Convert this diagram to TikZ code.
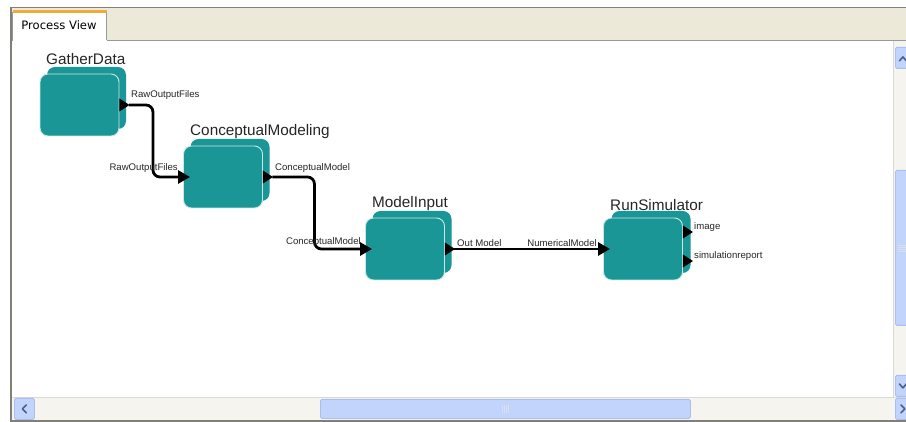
\documentclass[tikz,border=0pt]{standalone}
\usepackage{fontspec}
\setmainfont{Liberation Sans}
\newfontfamily\tabfont{DejaVu Sans}
\usetikzlibrary{arrows.meta}
\definecolor{blockteal}{RGB}{27,150,150}
\definecolor{blockedge}{RGB}{200,232,232}
\definecolor{xpbeige}{RGB}{236,233,216}
\definecolor{xpframe}{RGB}{128,128,120}
\definecolor{xptrack}{RGB}{245,244,239}
\definecolor{xpbtn}{RGB}{194,211,252}
\definecolor{xpbtnedge}{RGB}{170,190,240}
\definecolor{xpthumb}{RGB}{196,214,251}
\definecolor{xpglyph}{RGB}{77,97,133}
\definecolor{taborange}{RGB}{240,170,60}
\definecolor{tabedge}{RGB}{145,155,156}
\begin{document}
\begin{tikzpicture}[x=1pt,y=-1pt,
  front/.style={draw=blockedge, line width=0.9pt, fill=blockteal, rounded corners=8pt,
    minimum width=79pt, minimum height=62pt, inner sep=0pt},
  back/.style={fill=blockteal, rounded corners=8pt,
    minimum width=79pt, minimum height=62pt, inner sep=0pt},
  title/.style={font=\fontsize{15.3}{18}\selectfont, anchor=base west, inner sep=0pt, text=black!85},
  lbl/.style={font=\fontsize{9.6}{11}\selectfont, inner sep=0pt, text=black!85},
  conn/.style={line width=2.8pt, rounded corners=7pt, line cap=butt,
    -{Triangle[length=12pt,width=13pt]}},
  outport/.pic={\fill (0,-6.5) -- (10,0) -- (0,6.5) -- cycle;},
  btn/.style={fill=xpbtn, draw=xpbtnedge, line width=0.8pt, rounded corners=1.5pt},
  glyph/.style={draw=xpglyph, line width=1.6pt, line cap=round, line join=round}
]
\useasboundingbox (0,0) rectangle (906,422);
\fill[white] (0,0) rectangle (906,422);

% ---- window chrome ----
\fill[xpbeige] (12,8) rectangle (906,40);
\draw[xpframe, line width=0.8pt] (10,7.5) -- (906,7.5);
\draw[xpframe, line width=2pt] (11,7.5) -- (11,422);
\draw[tabedge, line width=0.7pt] (106,40.5) -- (906,40.5);
% tab
\fill[white] (12.5,10) rectangle (106.5,41);
\draw[tabedge, line width=0.7pt] (12.5,41) -- (12.5,12) -- (106.5,12) -- (106.5,40.5);
\fill[taborange] (12.5,10) rectangle (106.5,13);
\node[font=\tabfont\fontsize{11.6}{13}\selectfont, inner sep=0pt] (tab) at (59,25.5) {Process View};

% vertical scrollbar
\fill[xptrack] (893,41) rectangle (906,397);
\draw[white!85!black, line width=0.6pt] (893,41) -- (893,397);
\node[btn, minimum width=13pt, minimum height=21pt, anchor=north west] (up) at (895,47) {};
\draw[glyph] ([shift={(-2.5,3)}]up.center) -- ([shift={(1,-1)}]up.center) -- ([shift={(4.5,3)}]up.center);
\node[btn, minimum width=13pt, minimum height=155pt, anchor=north west] (vthumb) at (895,170) {};
\foreach \d in {-3,-1,1,3}
  \draw[white!80!xpglyph, line width=0.6pt] ([shift={(-4,\d)}]vthumb.center) -- ([shift={(6,\d)}]vthumb.center);
\node[btn, minimum width=13pt, minimum height=21pt, anchor=north west] (down) at (895,375) {};
\draw[glyph] ([shift={(-2.5,-2)}]down.center) -- ([shift={(1,2)}]down.center) -- ([shift={(4.5,-2)}]down.center);

% horizontal scrollbar
\fill[xptrack] (12,397) rectangle (906,420);
\draw[white!85!black, line width=0.6pt] (12,397) -- (906,397);
\node[btn, minimum width=20pt, minimum height=21pt, anchor=north west] (left) at (14,398) {};
\draw[glyph] ([shift={(2,-4)}]left.center) -- ([shift={(-2,0)}]left.center) -- ([shift={(2,4)}]left.center);
\node[btn, minimum width=370pt, minimum height=19pt, anchor=north west] (hthumb) at (320,399) {};
\foreach \d in {-3,-1,1,3}
  \draw[white!80!xpglyph, line width=0.6pt] ([shift={(\d,-4)}]hthumb.center) -- ([shift={(\d,4)}]hthumb.center);
\node[btn, minimum width=13pt, minimum height=21pt, anchor=north west] (right) at (895,398) {};
\draw[glyph] ([shift={(-1,-4)}]right.center) -- ([shift={(3,0)}]right.center) -- ([shift={(-1,4)}]right.center);
\draw[xpframe, line width=2pt] (11,421) -- (906,421);

% ---- blocks ----
\node[back] (gdb) at (86.5,98) {};
\node[front] (gd) at (79.5,105) {};
\node[title] (gdt) at (46,65) {GatherData};

\node[back] (cmb) at (230,170) {};
\node[front] (cm) at (223,177) {};
\node[title] (cmt) at (190,136) {ConceptualModeling};

\node[back] (mib) at (412,242) {};
\node[front] (mi) at (405,249) {};
\node[title] (mit) at (372,208) {ModelInput};

\node[back] (rsb) at (651,242) {};
\node[front] (rs) at (643,249) {};
\node[title] (rst) at (610,211) {RunSimulator};

% ---- ports ----
\pic at (gd.east) {outport};
\coordinate (gdo) at ([xshift=9.5pt]gd.east);
\pic at (cm.east) {outport};
\coordinate (cmo) at ([xshift=9.5pt]cm.east);
\pic at (mi.east) {outport};
\coordinate (mio) at ([xshift=9.5pt]mi.east);
\pic at ([yshift=17pt]rs.east) {outport};
\pic at ([yshift=-12pt]rs.east) {outport};
\coordinate (cmi) at ([xshift=7pt]cm.west);
\coordinate (mii) at ([xshift=7pt]mi.west);
\coordinate (rsi) at ([xshift=7pt]rs.west);

% ---- connectors ----
\draw[conn] (gdo) -- ++(24,0) |- (cmi);
\draw[conn] (cmo) -- ++(42,0) |- (mii);
\draw[conn] (mio) -- (rsi);

% ---- port labels ----
\node[lbl, anchor=west] (l1) at (131,95) {RawOutputFiles};
\node[lbl, anchor=east] (l2) at (178,168) {RawOutputFiles};
\node[lbl, anchor=west] (l3) at (275,168) {ConceptualModel};
\node[lbl, anchor=east] (l4) at (361,242) {ConceptualModel};
\node[lbl, anchor=west] (l5) at (457,243) {Out Model};
\node[lbl, anchor=east] (l6) at (597,243) {NumericalModel};
\node[lbl, anchor=west] (l7) at (694,227) {image};
\node[lbl, anchor=west] (l8) at (694,256) {simulationreport};
\end{tikzpicture}
\end{document}
